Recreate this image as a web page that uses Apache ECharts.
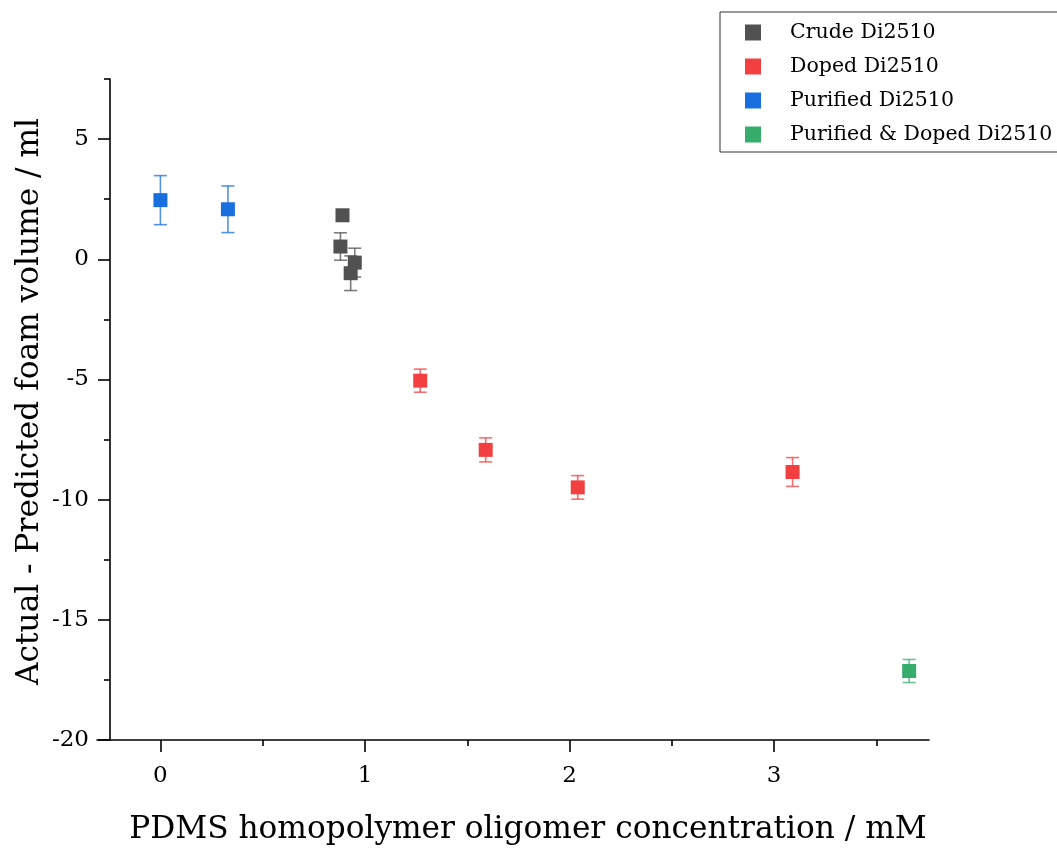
<!DOCTYPE html>
<html>
<head>
<meta charset="utf-8">
<script src="https://cdn.jsdelivr.net/npm/echarts@6/dist/echarts.min.js"></script>
<style>html,body{margin:0;padding:0;background:#fff;}#chart{width:1057px;height:848px;}</style>
</head>
<body>
<div id="chart"></div>
<script>
// ---- data ----
const seriesNames = ['Crude Di2510', 'Doped Di2510', 'Purified Di2510', 'Purified & Doped Di2510'];
const crudeX = [0.89, 0.88, 0.95, 0.93];
const crudeY = [1.83, 0.53, -0.14, -0.58];
const crudeErr = [0.2, 0.57, 0.6, 0.72];
const dopedX = [1.27, 1.59, 2.04, 3.09];
const dopedY = [-5.05, -7.93, -9.49, -8.85];
const dopedErr = [0.48, 0.5, 0.49, 0.6];
const purX = [0, 0.33];
const purY = [2.46, 2.08];
const purErr = [1.02, 0.97];
const pdX = [3.66];
const pdY = [-17.13];
const pdErr = [0.48];
const xMajorTicks = [0, 1, 2, 3];
const xMinorTicks = [0.5, 1.5, 2.5, 3.5];
const yMajorTicks = [-20, -15, -10, -5, 0, 5];
const yMinorTicks = [-17.5, -12.5, -7.5, -2.5, 2.5, 7.5];
const xTitle = 'PDMS homopolymer oligomer concentration / mM';
const yTitle = 'Actual - Predicted foam volume / ml';

const colors = ['#515151', '#F24040', '#1A6FDF', '#37AD6B'];
const FONT = 'DejaVu Serif';

const groups = [
  [crudeX, crudeY, crudeErr],
  [dopedX, dopedY, dopedErr],
  [purX, purY, purErr],
  [pdX, pdY, pdErr]
];

function zip(xs, ys, es) { return xs.map((x, i) => es ? [x, ys[i], es[i]] : [x, ys[i]]); }

const series = [];
groups.forEach((g, k) => {
  series.push({
    type: 'custom',
    name: seriesNames[k] + ' err',
    data: zip(g[0], g[1], g[2]),
    z: 1,
    silent: true,
    renderItem: function (params, api) {
      const x = api.value(0), y = api.value(1), e = api.value(2);
      const top = api.coord([x, y + e]);
      const bot = api.coord([x, y - e]);
      const hw = 6.5;
      const st = { stroke: colors[k], lineWidth: 1.6, opacity: 0.75 };
      return {
        type: 'group',
        children: [
          { type: 'line', shape: { x1: top[0], y1: top[1], x2: bot[0], y2: bot[1] }, style: st },
          { type: 'line', shape: { x1: top[0] - hw, y1: top[1], x2: top[0] + hw, y2: top[1] }, style: st },
          { type: 'line', shape: { x1: bot[0] - hw, y1: bot[1], x2: bot[0] + hw, y2: bot[1] }, style: st }
        ]
      };
    }
  });
});
groups.forEach((g, k) => {
  series.push({
    type: 'scatter',
    name: seriesNames[k],
    data: zip(g[0], g[1]),
    symbol: 'rect',
    symbolSize: 14,
    itemStyle: { color: colors[k], opacity: 1 },
    z: 3
  });
});

const tickLine = { color: '#000', width: 1.6 };

const option = {
  animation: false,
  backgroundColor: '#fff',
  color: colors,
  grid: { left: 97, right: 128, top: 79, bottom: 108, containLabel: false, outerBoundsMode: 'none' },
  xAxis: [
    {
      type: 'value', min: -0.31, max: 3.757, position: 'bottom',
      axisLine: { show: true, onZero: false, lineStyle: tickLine },
      splitLine: { show: false },
      axisTick: { show: true, inside: false, length: 12, customValues: xMajorTicks, lineStyle: tickLine },
      axisLabel: { customValues: xMajorTicks, margin: 25, color: '#000', fontFamily: FONT, fontSize: 23 },
      name: xTitle, nameLocation: 'middle', nameGap: 74, nameMoveOverlap: false,
      nameTextStyle: { color: '#000', fontFamily: FONT, fontSize: 31.2, padding: [0, 0, 0, 30] }
    },
    {
      type: 'value', min: -0.31, max: 3.757, position: 'bottom', gridIndex: 0,
      axisLine: { show: false, onZero: false }, splitLine: { show: false },
      axisTick: { show: true, length: 6, customValues: xMinorTicks, lineStyle: tickLine },
      axisLabel: { show: false }
    }
  ],
  yAxis: [
    {
      type: 'value', min: -20, max: 7.5, position: 'left', offset: -13,
      axisLine: { show: true, onZero: false, lineStyle: tickLine },
      splitLine: { show: false },
      axisTick: { show: true, inside: false, length: 12, customValues: yMajorTicks, lineStyle: tickLine },
      axisLabel: { customValues: yMajorTicks, margin: 21, color: '#000', fontFamily: FONT, fontSize: 23 },
      name: yTitle, nameLocation: 'middle', nameGap: 65, nameMoveOverlap: false,
      nameTextStyle: { color: '#000', fontFamily: FONT, fontSize: 31.2, padding: [0, 0, 0, 16] }
    },
    {
      type: 'value', min: -20, max: 7.5, position: 'left', offset: -13, gridIndex: 0,
      axisLine: { show: false, onZero: false }, splitLine: { show: false },
      axisTick: { show: true, length: 6, customValues: yMinorTicks, lineStyle: tickLine },
      axisLabel: { show: false }
    }
  ],
  legend: {
    data: seriesNames,
    orient: 'vertical',
    left: 720, top: 12,
    padding: [10, 60, 7, 25],
    itemGap: 13,
    itemWidth: 16, itemHeight: 16,
    icon: 'rect',
    borderColor: '#333', borderWidth: 1,
    backgroundColor: '#fff',
    textStyle: { color: '#000', fontFamily: FONT, fontSize: 20.5, padding: [0, 0, 0, 24], lineHeight: 20 }
  },
  series: series
};

const chart = echarts.init(document.getElementById('chart'), null, { renderer: 'canvas' });
chart.setOption(option);
</script>
</body>
</html>
